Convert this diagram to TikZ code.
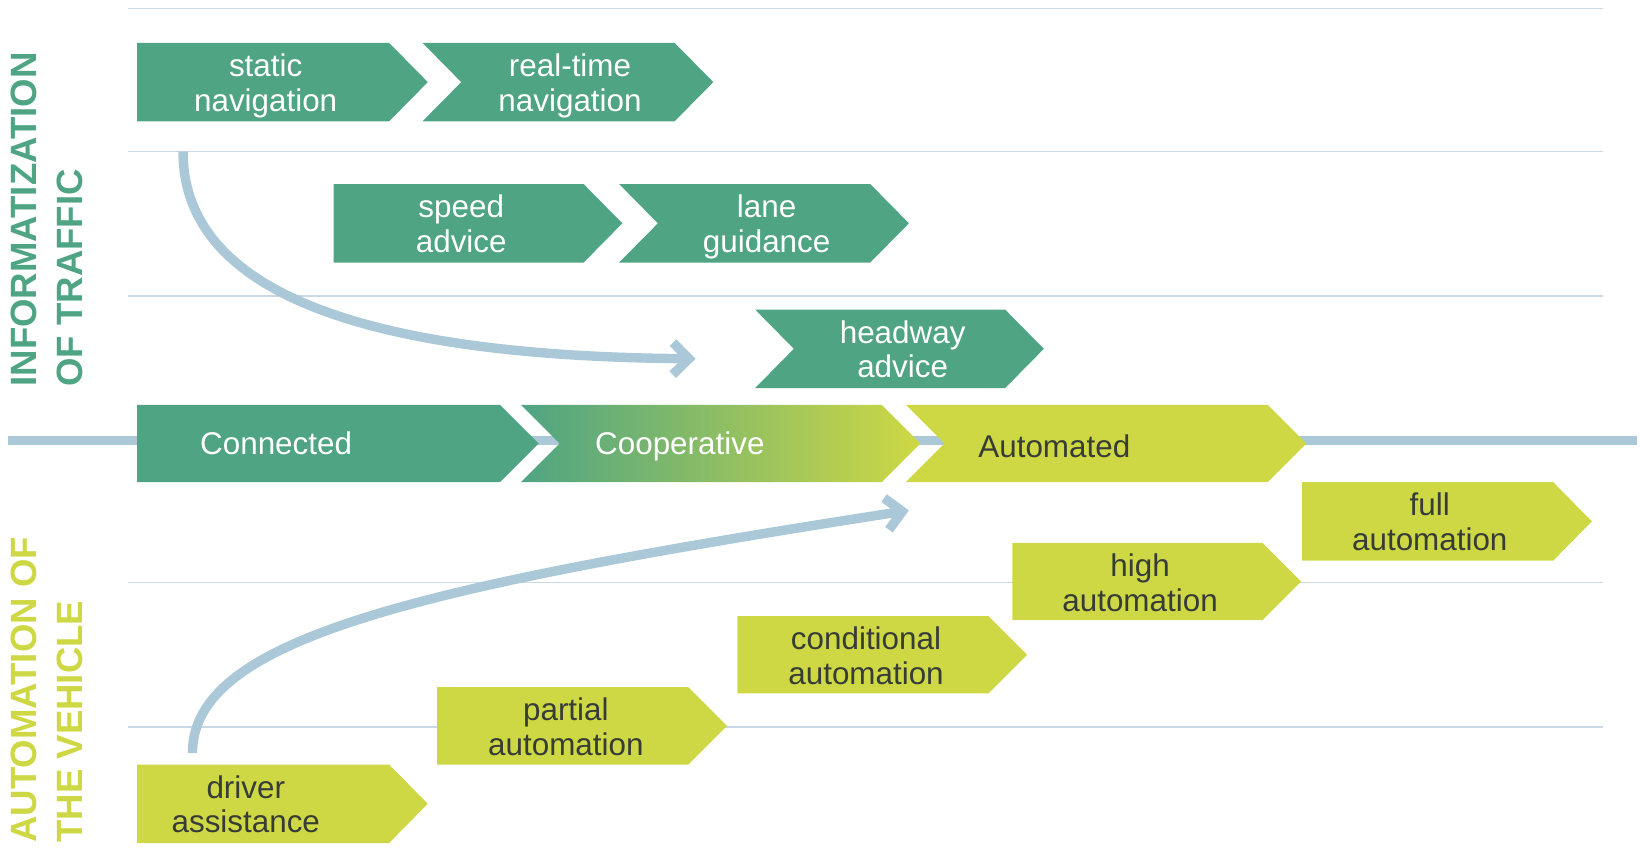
\documentclass[tikz,border=0pt]{standalone}
\usepackage{fontspec}
\setmainfont{Liberation Sans}
\newfontfamily\headfont{Liberation Sans Bold}
\usetikzlibrary{arrows.meta}

\definecolor{infogreen}{RGB}{78,164,131}
\definecolor{autoyellow}{RGB}{206,216,68}
\definecolor{flowblue}{RGB}{170,200,215}
\definecolor{guideblue}{RGB}{200,216,228}
\definecolor{darktext}{RGB}{55,60,55}

\begin{document}
\begin{tikzpicture}[x=0.523pt,y=-0.523pt,
  boxtext/.style={align=center,inner sep=0pt,font=\fontsize{15.7}{17.3}\selectfont},
  ontext/.style={boxtext,text=white},
  offtext/.style={boxtext,text=darktext},
  sidetext/.style={align=left,inner sep=0pt,rotate=90,anchor=north west,
    font=\headfont\fontsize{18.3}{23}\selectfont},
  guide/.style={guideblue,line width=0.8pt},
  flow/.style={flowblue,line width=4.7pt,-{Straight Barb[length=8pt,width=16pt]}}]

\useasboundingbox (0,0) rectangle (1568,829);

% guide lines and main axis
\draw[guide] (122,8) -- (1533,8);
\draw[guide] (122,145) -- (1533,145);
\draw[guide] (122,283) -- (1533,283);
\draw[guide] (122,557) -- (1533,557);
\draw[guide] (122,695) -- (1533,695);
\draw[flowblue,line width=4.7pt] (8,421) -- (1565,421);

% side headings
\node[sidetext,text=infogreen] (infohead) at (10,370) {INFORMATIZATION\\OF TRAFFIC};
\node[sidetext,text=autoyellow] (autohead) at (10,806) {AUTOMATION OF\\THE VEHICLE};

% informatization steps
\fill[infogreen] (131,41) -- (372,41) -- (409,78.5) -- (372,116) -- (131,116) -- cycle;
\fill[infogreen] (404,41) -- (645,41) -- (682,78.5) -- (645,116) -- (404,116) -- (441,78.5) -- cycle;
\fill[infogreen] (319,176) -- (558,176) -- (595,213.5) -- (558,251) -- (319,251) -- cycle;
\fill[infogreen] (592,176) -- (832,176) -- (869,213.5) -- (832,251) -- (592,251) -- (629,213.5) -- cycle;
\fill[infogreen] (722,296) -- (961,296) -- (998,333.5) -- (961,371) -- (722,371) -- (759,333.5) -- cycle;

\node[ontext] (static) at (254,82) {static\\navigation};
\node[ontext] (realtime) at (545,82) {real-time\\navigation};
\node[ontext] (speed) at (441,214) {speed\\advice};
\node[ontext] (lane) at (733,217) {lane\\guidance};
\node[ontext] (headway) at (863,334) {headway\\advice};

% main row
\fill[infogreen] (131,387) -- (478,387) -- (515,424) -- (478,461) -- (131,461) -- cycle;
\shade[left color=infogreen,right color=autoyellow] (498,387) -- (843,387) -- (880,424) -- (843,461) -- (498,461) -- (535,424) -- cycle;
\fill[autoyellow] (866,387) -- (1212,387) -- (1249,424) -- (1212,461) -- (866,461) -- (903,424) -- cycle;

\node[ontext] (connected) at (264,424) {Connected};
\node[ontext] (cooperative) at (650,427) {Cooperative};
\node[offtext] (automated) at (1008,427) {Automated};

% automation levels
\fill[autoyellow] (1245,461) -- (1485,461) -- (1522,498.5) -- (1485,536) -- (1245,536) -- cycle;
\fill[autoyellow] (968,519) -- (1207,519) -- (1244,556) -- (1207,593) -- (968,593) -- cycle;
\fill[autoyellow] (705,589) -- (945,589) -- (982,626) -- (945,663) -- (705,663) -- cycle;
\fill[autoyellow] (418,657) -- (658,657) -- (695,694) -- (658,731) -- (418,731) -- cycle;
\fill[autoyellow] (131,731) -- (372,731) -- (409,768.5) -- (372,806) -- (131,806) -- cycle;

\node[offtext] (full) at (1367,499) {full\\automation};
\node[offtext] (high) at (1090,557) {high\\automation};
\node[offtext] (conditional) at (828,627) {conditional\\automation};
\node[offtext] (partial) at (541,695) {partial\\automation};
\node[offtext] (driver) at (235,769) {driver\\assistance};

% trend arrows
\coordinate (infostart) at (175,145);
\coordinate (infoend) at (665,343);
\coordinate (autostart) at (184,720);
\coordinate (autoend) at (869,488);
\draw[flow] (infostart) .. controls (175,250) and (280,340) .. (infoend);
\draw[flow] (autostart) .. controls (184,610) and (400,561) .. (autoend);

\end{tikzpicture}
\end{document}
